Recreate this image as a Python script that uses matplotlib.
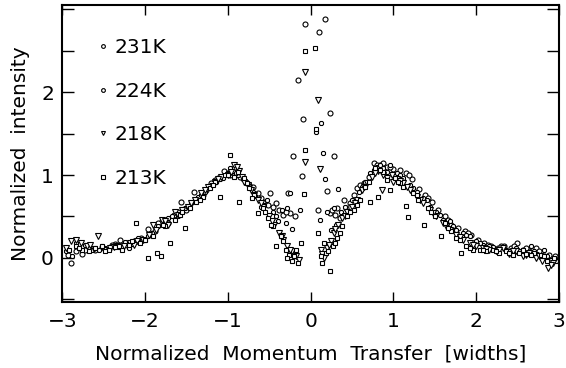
import matplotlib
matplotlib.use("Agg")
import matplotlib.pyplot as plt
from matplotlib.ticker import MultipleLocator


# 数据: 各温度下的归一化强度
labels = ["231K", "224K", "218K", "213K"]

x231 = [-2.93, -2.89, -2.84, -2.76, -2.68, -2.60, -2.52, -2.44, -2.36, -2.30,
        -2.22, -2.14, -2.05, -1.96, -1.88, -1.80, -1.72, -1.65, -1.57, -1.50,
        -1.41, -1.35, -1.27, -1.20, -1.12, -1.05, -0.98, -0.92, -0.85, -0.78,
        -0.70, -0.63, -0.57, -0.49, -0.45, -0.38, -0.33, -0.27, -0.21, -0.25,
        -0.19, -0.15, -0.11, -0.09, -0.07, 0.10, 0.17, 0.23, 0.28, 0.20,
        0.09, 0.23, 0.29, 0.35, 0.43, 0.47, 0.56, 0.64, 0.70, 0.76,
        0.84, 0.92, 1.00, 1.08, 1.15, 1.23, 1.31, 1.38, 1.46, 1.54,
        1.62, 1.70, 1.78, 1.86, 1.94, 2.02, 2.10, 2.18, 2.26, 2.34,
        2.42, 2.49, 2.56, 2.64, 2.72, 2.80, 2.88, 2.95,
        -2.72, -2.40, -2.10, -1.84, -1.60, -1.30, -1.16, -1.00, -0.88, -0.74,
        -0.60, -0.52, -0.42, -0.30, 0.26, 0.32, 0.40, 0.52, 0.60, 0.80,
        0.88, 0.96, 1.19, 1.42, 1.66, 1.90, 2.14, 2.30, 2.46, 2.60, 2.76]
y231 = [0.04, -0.06, 0.08, 0.05, 0.12, 0.10, 0.13, 0.11, 0.17, 0.22,
        0.16, 0.20, 0.24, 0.35, 0.33, 0.45, 0.42, 0.52, 0.67, 0.58,
        0.80, 0.72, 0.82, 0.90, 0.97, 1.05, 1.00, 1.08, 0.98, 0.92,
        0.85, 0.78, 0.68, 0.78, 0.62, 0.58, 0.52, 0.78, 1.23, 0.54,
        0.50, 2.14, 0.99, 1.67, 2.82, 2.72, 2.88, 1.75, 1.23, 0.81,
        0.58, 0.54, 0.52, 0.48, 0.60, 0.66, 0.84, 0.90, 0.98, 1.14,
        1.12, 1.10, 1.07, 1.06, 1.03, 0.95, 0.83, 0.76, 0.67, 0.58,
        0.50, 0.40, 0.36, 0.32, 0.28, 0.22, 0.18, 0.14, 0.12, 0.15,
        0.12, 0.18, 0.10, 0.08, 0.12, 0.06, 0.04, 0.02,
        0.10, 0.16, 0.22, 0.42, 0.56, 0.76, 0.94, 1.02, 1.06, 0.88,
        0.72, 0.64, 0.66, 0.56, 0.58, 0.60, 0.70, 0.76, 0.88, 1.12,
        1.14, 1.10, 1.00, 0.72, 0.46, 0.30, 0.16, 0.14, 0.14, 0.12, 0.08]

x224 = [-2.95, -2.88, -2.80, -2.72, -2.64, -2.56, -2.48, -2.40, -2.32, -2.24,
        -2.16, -2.08, -2.00, -1.92, -1.84, -1.76, -1.68, -1.60, -1.52, -1.44,
        -1.36, -1.28, -1.20, -1.14, -1.06, -1.00, -0.94, -0.88, -0.82, -0.74,
        -0.67, -0.60, -0.53, -0.46, -0.40, -0.35, -0.30, -0.25, -0.22, -0.13,
        0.06, 0.12, 0.15, 0.17, 0.33, 0.11, 0.25, 0.31, 0.37, 0.42,
        0.50, 0.58, 0.66, 0.72, 0.80, 0.88, 0.96, 1.04, 1.12, 1.20,
        1.28, 1.36, 1.44, 1.52, 1.60, 1.68, 1.76, 1.84, 1.92, 2.00,
        2.08, 2.16, 2.24, 2.32, 2.40, 2.48, 2.57, 2.66, 2.74, 2.82,
        2.90, 2.96,
        -2.84, -2.52, -2.20, -1.96, -1.72, -1.48, -1.32, -1.10, -0.97, -0.90,
        -0.78, -0.70, -0.56, -0.42, -0.28, 0.20, 0.28, 0.40, 0.62, 0.76,
        0.84, 0.92, 1.08, 1.24, 1.40, 1.56, 1.72, 1.88, 2.04, 2.20,
        2.36, 2.52, 2.70, 2.86]
y224 = [0.08, 0.02, 0.12, 0.16, 0.10, 0.09, 0.12, 0.15, 0.13, 0.19,
        0.17, 0.24, 0.22, 0.30, 0.38, 0.44, 0.50, 0.50, 0.60, 0.66,
        0.74, 0.80, 0.88, 0.92, 0.97, 1.02, 1.05, 1.00, 0.95, 0.88,
        0.75, 0.62, 0.70, 0.55, 0.45, 0.58, 0.42, 0.78, 0.35, 0.58,
        1.52, 1.63, 1.27, 0.95, 0.83, 0.46, 0.34, 0.40, 0.55, 0.62,
        0.70, 0.80, 0.92, 1.02, 1.10, 1.08, 1.12, 1.02, 0.96, 0.88,
        0.80, 0.72, 0.62, 0.55, 0.46, 0.44, 0.34, 0.30, 0.26, 0.20,
        0.16, 0.15, 0.10, 0.13, 0.08, 0.12, 0.06, 0.15, 0.05, 0.10,
        -0.02, -0.04,
        0.18, 0.14, 0.12, 0.26, 0.48, 0.62, 0.76, 0.95, 1.08, 1.02,
        0.90, 0.80, 0.64, 0.50, 0.60, 0.55, 0.60, 0.52, 0.86, 1.06,
        1.12, 1.04, 1.00, 0.84, 0.70, 0.52, 0.38, 0.28, 0.18, 0.13,
        0.10, 0.08, 0.08, 0.02]

x218 = [-2.95, -2.90, -2.84, -2.77, -2.70, -2.62, -2.57, -2.50, -2.42, -2.34,
        -2.26, -2.18, -2.10, -2.02, -1.95, -1.87, -1.80, -1.72, -1.64, -1.56,
        -1.48, -1.40, -1.32, -1.24, -1.16, -1.08, -1.00, -0.93, -0.86, -0.80,
        -0.72, -0.64, -0.57, -0.50, -0.44, -0.38, -0.33, -0.28, -0.23, -0.18,
        -0.14, -0.07, -0.07, 0.09, 0.11, 0.12, 0.16, 0.20, 0.24, 0.28,
        0.33, 0.38, 0.44, 0.50, 0.56, 0.62, 0.68, 0.74, 0.81, 0.86,
        0.92, 0.98, 1.04, 1.12, 1.20, 1.28, 1.36, 1.44, 1.52, 1.60,
        1.68, 1.76, 1.84, 1.92, 2.00, 2.08, 2.16, 2.24, 2.32, 2.40,
        2.48, 2.56, 2.64, 2.72, 2.80, 2.87, 2.93,
        -2.66, -2.38, -2.14, -1.90, -1.76, -1.60, -1.44, -1.28, -1.12, -0.96,
        -0.89, -0.83, -0.76, -0.68, -0.60, -0.47, -0.35, -0.25, 0.14, 0.22,
        0.30, 0.41, 0.53, 0.65, 0.78, 0.88, 1.00, 1.08, 1.16, 1.32,
        1.48, 1.64, 1.80, 1.96, 2.12, 2.28, 2.44, 2.60, 2.76, 2.90]
y218 = [0.12, 0.20, 0.22, 0.18, 0.14, 0.11, 0.27, 0.10, 0.12, 0.15,
        0.14, 0.18, 0.20, 0.22, 0.28, 0.34, 0.46, 0.40, 0.55, 0.58,
        0.62, 0.70, 0.78, 0.85, 0.92, 0.98, 1.00, 1.12, 1.05, 0.92,
        0.82, 0.70, 0.62, 0.50, 0.40, 0.30, 0.22, 0.14, 0.08, 0.02,
        -0.02, 2.24, 1.16, 1.90, 1.07, 0.10, 0.00, 0.12, 0.20, 0.30,
        0.40, 0.48, 0.55, 0.62, 0.70, 0.82, 0.90, 0.98, 1.05, 0.82,
        0.96, 1.00, 0.95, 0.90, 0.82, 0.74, 0.66, 0.58, 0.50, 0.42,
        0.34, 0.28, 0.22, 0.18, 0.14, 0.12, 0.10, 0.08, 0.12, 0.05,
        0.08, 0.02, 0.06, 0.00, -0.04, -0.12, -0.06,
        0.16, 0.13, 0.16, 0.40, 0.44, 0.52, 0.66, 0.82, 0.95, 1.04,
        1.10, 0.98, 0.88, 0.76, 0.66, 0.45, 0.26, 0.10, 0.05, 0.16,
        0.35, 0.50, 0.66, 0.86, 1.02, 1.00, 0.92, 0.93, 0.86, 0.70,
        0.54, 0.38, 0.25, 0.16, 0.11, 0.10, 0.08, 0.04, 0.02, -0.08]

x213 = [-2.92, -2.84, -2.76, -2.68, -2.60, -2.52, -2.44, -2.36, -2.28, -2.20,
        -2.11, -2.06, -1.97, -1.90, -1.86, -1.81, -1.76, -1.70, -1.64, -1.58,
        -1.52, -1.46, -1.38, -1.30, -1.22, -1.16, -1.10, -1.04, -0.97, -0.92,
        -0.86, -0.80, -0.74, -0.68, -0.64, -0.58, -0.52, -0.46, -0.42, -0.36,
        -0.30, -0.26, -0.22, -0.18, -0.15, -0.12, -0.07, 0.05, 0.07, -0.07,
        -0.08, 0.09, 0.14, 0.18, 0.23, 0.27, 0.32, 0.38, 0.44, 0.52,
        0.60, 0.66, 0.72, 0.78, 0.81, 0.88, 0.96, 1.02, 1.08, 1.15,
        1.18, 1.24, 1.30, 1.37, 1.42, 1.50, 1.57, 1.62, 1.70, 1.76,
        1.82, 1.88, 1.96, 2.04, 2.12, 2.20, 2.28, 2.36, 2.44, 2.52,
        2.60, 2.70, 2.78, 2.86, 2.94,
        -2.80, -2.48, -2.32, -2.16, -2.00, -1.78, -1.55, -1.34, -1.18, -1.00,
        -0.88, -0.77, -0.71, -0.55, -0.48, -0.33, -0.28, -0.20, 0.12, 0.16,
        0.21, 0.30, 0.35, 0.48, 0.56, 0.70, 0.84, 0.92, 1.06, 1.12,
        1.28, 1.45, 1.66, 1.80, 1.92, 2.08, 2.24, 2.40, 2.56, 2.66, 2.82]
y213 = [0.10, 0.14, 0.10, 0.08, 0.12, 0.14, 0.10, 0.13, 0.10, 0.16,
        0.42, 0.18, 0.00, 0.26, 0.06, 0.02, 0.38, 0.18, 0.46, 0.52,
        0.36, 0.60, 0.68, 0.74, 0.84, 0.92, 0.74, 1.00, 1.24, 0.98,
        0.68, 0.96, 0.84, 0.76, 0.54, 0.60, 0.48, 0.38, 0.14, 0.26,
        0.10, 0.04, -0.04, 0.10, -0.06, 0.18, 2.49, 2.53, 1.55, 1.30,
        0.77, 0.30, -0.06, 0.06, -0.16, 0.14, 0.24, 0.38, 0.50, 0.58,
        0.70, 0.85, 0.68, 1.08, 0.74, 1.04, 0.82, 0.96, 0.90, 0.63,
        0.49, 0.78, 0.70, 0.40, 0.60, 0.50, 0.27, 0.42, 0.32, 0.24,
        0.06, 0.14, 0.10, 0.10, 0.08, 0.10, 0.06, 0.08, 0.04, 0.06,
        0.05, 0.06, 0.04, -0.04, 0.00,
        0.12, 0.08, 0.15, 0.20, 0.22, 0.40, 0.56, 0.70, 0.88, 1.00,
        1.04, 0.90, 0.72, 0.56, 0.40, 0.20, 0.00, 0.02, 0.02, 0.18,
        0.08, 0.18, 0.30, 0.55, 0.64, 0.92, 1.06, 0.94, 0.92, 0.86,
        0.76, 0.55, 0.36, 0.22, 0.12, 0.10, 0.08, 0.06, 0.10, 0.04, 0.02]

series  = [(x231, y231), (x224, y224), (x218, y218), (x213, y213)]
markers = ["o", "8", "v", "s"]
msizes  = [3.6, 3.8, 3.8, 3.4]


fig = plt.figure(figsize=(5.66, 3.68), dpi=100, facecolor="white")
ax = fig.add_axes([0.1101, 0.1785, 0.8775, 0.8079])

for (xs, ys), mk, ms, lab in zip(series, markers, msizes, labels):
    ax.plot(xs, ys, linestyle="none", marker=mk, markersize=ms,
            markerfacecolor="white", markeredgecolor="black",
            markeredgewidth=0.8, label=lab)

ax.set_xlim(-3, 3)
ax.set_ylim(-0.535, 3.05)

ax.yaxis.set_minor_locator(MultipleLocator(0.5))
ax.tick_params(axis="both", which="both", direction="in", top=True, right=True,
               width=1.0, labelsize=14.5)
ax.tick_params(axis="x", which="major", length=7.5, pad=7)
ax.tick_params(axis="y", which="both", length=8.5, pad=6)
ax.set_xticks([-3, -2, -1, 0, 1, 2, 3])
ax.set_xticklabels(["\u22123", "\u22122", "\u22121", "0", "1", "2", "3"])
ax.set_yticks([0, 1, 2])
ax.set_yticklabels(["0", "1", "2"])

for side in ["left", "bottom", "top", "right"]:
    ax.spines[side].set_linewidth(1.5)

ax.set_xlabel("Normalized  Momentum  Transfer  [widths]", fontsize=14.5, labelpad=10)
ax.set_ylabel("Normalized  intensity", fontsize=14.5, labelpad=8)

leg = ax.legend(loc="upper left", bbox_to_anchor=(0.058, 0.915), frameon=False,
                fontsize=14.5, handlelength=0.4, handletextpad=0.35,
                labelspacing=1.22, markerscale=0.75, borderaxespad=0)

fig.savefig("out.png", dpi=100, facecolor="white")
